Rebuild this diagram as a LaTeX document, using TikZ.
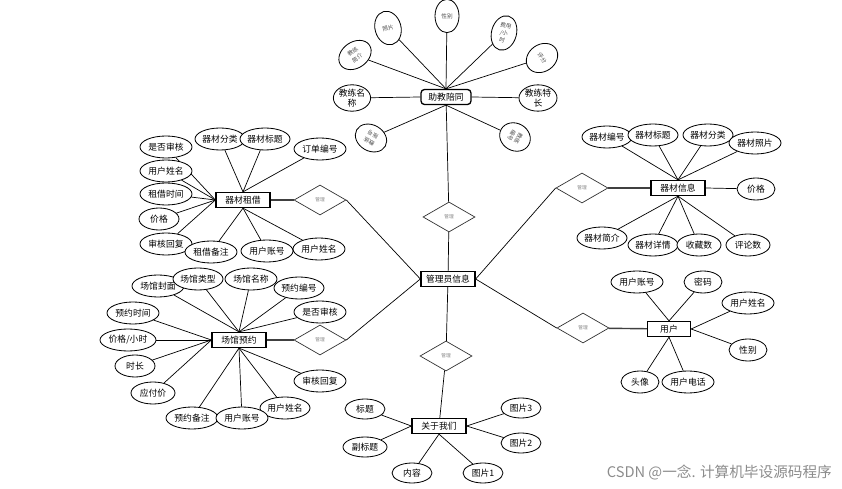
\documentclass[tikz,border=0pt]{standalone}
\usepackage{fontspec}
\setmainfont{Noto Sans CJK SC}
\usetikzlibrary{positioning, shapes.geometric}
\tikzstyle{attr}=[ellipse, draw=black, fill=white, line width=.7pt, minimum height=.66cm, inner sep=0pt, align=center, font=\fontsize{7.5}{9}\selectfont]
\tikzstyle{tattr}=[ellipse, draw=black, fill=white, line width=.7pt, inner sep=0pt, align=center, text=black!70, font=\fontsize{4.8}{6.5}\selectfont]
\tikzstyle{entity}=[rectangle, draw=black, fill=white, line width=1.1pt, minimum width=1.62cm, minimum height=.45cm, inner sep=1pt, font=\fontsize{7.5}{9}\selectfont]
\tikzstyle{rel}=[diamond, draw=black!80, fill=white, line width=.6pt, minimum width=1.56cm, minimum height=.9cm, inner sep=0pt, text=black!50, font=\fontsize{4}{4}\selectfont]
\tikzstyle{link}=[line width=.6pt]
\tikzstyle{rlink}=[line width=1.2pt, black!75]

\begin{document}
\begin{tikzpicture}[x=.03cm, y=-.03cm]
            \useasboundingbox (0,0) rectangle (842,489);
            %entities
            \node[entity, rounded corners=3pt, minimum width=1.5cm](zj) at (446,97){助教陪同};
            \node[entity](gly) at (448,279){管理员信息};
            \node[entity](zl) at (243,200){器材租借};
            \node[entity](cg) at (239,340){场馆预约};
            \node[entity](xx) at (678,188){器材信息};
            \node[entity, minimum width=1.29cm](yh) at (669,329){用户};
            \node[entity](gy) at (439,426){关于我们};
            % relations
            \node[rel](r1) at (449,217){管理};
            \node[rel](r2) at (446,356){管理};
            \node[rel](r3) at (320,200){管理};
            \node[rel](r4) at (320,340){管理};
            \node[rel](r5) at (582,188){管理};
            \node[rel](r6) at (583,328){管理};
            \draw[link] (zj) -- (r1);
            \draw[link] (r1) -- (gly);
            \draw[link] (gly) -- (r2);
            \draw[link] (r2) -- (gy);
            \draw[rlink] (zl) -- (r3);
            \draw[link] (r3.east) -- (gly.west);
            \draw[rlink] (cg) -- (r4);
            \draw[link] (r4.east) -- (gly.west);
            \draw[rlink] (xx) -- (r5);
            \draw[link] (r5.west) -- (gly.east);
            \draw[rlink] (yh) -- (r6);
            \draw[link] (r6.west) -- (gly.east);
            % 助教陪同
            \node[attr, minimum width=.99cm, minimum height=.63cm](zm) at (352,98){教练名\\称};
            \draw[link] (zm) -- (zj.west);
            \node[attr, minimum width=1.14cm, minimum height=.63cm](zt) at (538,98){教练特\\长};
            \draw[link] (zt) -- (zj.east);
            \node[tattr, rotate=35, minimum width=1.05cm, minimum height=.78cm](zp1) at (355,55){教练\\简介};
            \node[tattr, rotate=15, minimum width=.78cm, minimum height=1.02cm](zp2) at (388,28){照片};
            \node[tattr, minimum width=.72cm, minimum height=1cm](zp3) at (447,16){性别};
            \node[tattr, rotate=-15, minimum width=.75cm, minimum height=1.05cm](zp4) at (504,33){费用\\/小\\时};
            \node[tattr, rotate=-55, minimum width=.81cm, minimum height=1cm](zp5) at (542,58){评分};
            \foreach \n in {1,...,5}{
                \draw[link] (zp\n) -- (zj.north);
            }
            \node[tattr, rotate=150, minimum width=.99cm, minimum height=.78cm](zp6) at (371,138){教练\\账号};
            \node[tattr, rotate=-120, minimum width=.82cm, minimum height=.95cm](zp7) at (515,137){教练\\编号};
            \draw[link] (zp6) -- (zj.south);
            \draw[link] (zp7) -- (zj.south);
            % 器材租借
            \foreach \x/\y/\t/\a/\w [count=\i] in {166/147/是否审核/west/52, 166/171/用户姓名/west/52, 166/194/租借时间/west/52, 159/219/价格/west/40, 166/244/审核回复/west/52, 220/139/器材分类/north/50, 265/139/器材标题/north/50, 320/149/订单编号/north/52, 211/252/租借备注/south/52, 319/249/用户姓名/south/52, 267/251/用户账号/south/52}{
                \node[attr, minimum width=\w*.03cm](zl\i) at (\x,\y){\t};
                \draw[link] (zl\i) -- (zl.\a);
            }
            % 场馆预约
            \node[attr, minimum width=1.68cm](cgj) at (128,340){价格/小时};
            \draw[link] (cgj) -- (cg.west);
            \foreach \x/\y/\t/\a/\w [count=\i] in {158/286/场馆封面/north/52, 198/279/场馆类型/north/50, 251/279/场馆名称/north/52, 299/288/预约编号/north/50, 320/312/是否审核/north/52, 133/313/预约时间/west/52, 135/366/时长/west/40, 153/393/应付价/west/44, 320/381/审核回复/south/52, 285/408/用户姓名/south/50, 192/418/预约备注/south/52, 242/418/用户账号/south/52}{
                \node[attr, minimum width=\w*.03cm](cg\i) at (\x,\y){\t};
                \draw[link] (cg\i) -- (cg.\a);
            }
            % 器材信息
            \foreach \x/\y/\t/\a/\w [count=\i] in {607/137/器材编号/north/50, 653/135/器材标题/north/50, 708/135/器材分类/north/50, 755/143/器材照片/north/52, 756/189/价格/east/38, 602/238/器材简介/south/50, 653/245/器材详情/south/50, 699/245/收藏数/south/44, 748/245/评论数/south/44}{
                \node[attr, minimum width=\w*.03cm](xx\i) at (\x,\y){\t};
                \draw[link] (xx\i) -- (xx.\a);
            }
            % 用户
            \foreach \x/\y/\t/\a/\w [count=\i] in {637/282/用户账号/north/52, 703/282/密码/north/38, 748/303/用户姓名/east/52, 748/350/性别/east/38, 640/382/头像/south/38, 688/382/用户电话/south/52}{
                \node[attr, minimum width=\w*.03cm](yh\i) at (\x,\y){\t};
                \draw[link] (yh\i) -- (yh.\a);
            }
            % 关于我们
            \foreach \x/\y/\t/\a/\w [count=\i] in {365/409/标题/west/40, 365/447/副标题/west/44, 412/473/内容/south/40, 483/473/图片1/south/40, 521/443/图片2/east/40, 521/408/图片3/east/40}{
                \node[attr, minimum width=\w*.03cm, minimum height=.6cm](gy\i) at (\x,\y){\t};
                \draw[link] (gy\i) -- (gy.\a);
            }
            \node[anchor=east, text=black!45, font=\fontsize{12.5}{14}\selectfont](wm) at (836,472){CSDN @一念. 计算机毕设源码程序};
        \end{tikzpicture}
\end{document}
